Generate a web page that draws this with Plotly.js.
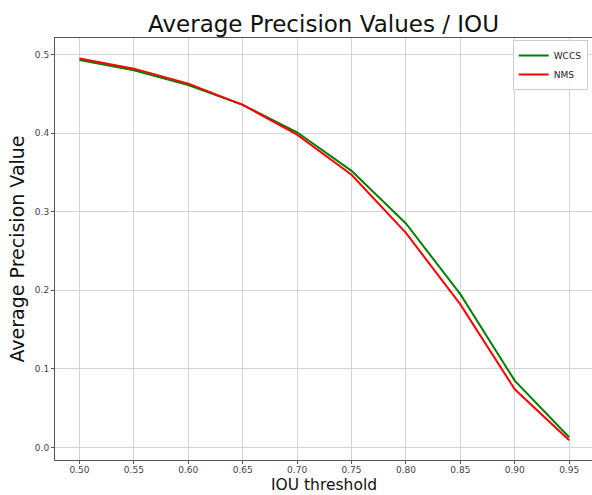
<!DOCTYPE html>
<html>
<head>
<meta charset="utf-8">
<script src="https://cdn.plot.ly/plotly-3.0.1.min.js"></script>
<style>html,body{margin:0;padding:0;background:#fff;}#chart{width:592px;height:495px;}</style>
</head>
<body>
<div id="chart"></div>
<script>
const iouThresholds = [0.50, 0.55, 0.60, 0.65, 0.70, 0.75, 0.80, 0.85, 0.90, 0.95];
const wccsValues = [0.493, 0.480, 0.461, 0.436, 0.401, 0.352, 0.285, 0.195, 0.085, 0.013];
const nmsValues  = [0.495, 0.482, 0.463, 0.436, 0.398, 0.347, 0.273, 0.182, 0.074, 0.009];
const xTickVals = [0.50, 0.55, 0.60, 0.65, 0.70, 0.75, 0.80, 0.85, 0.90, 0.95];
const yTickVals = [0.0, 0.1, 0.2, 0.3, 0.4, 0.5];
const xTitle = "IOU threshold";

const font = "DejaVu Sans, sans-serif";
const traces = [
  {x: iouThresholds, y: wccsValues, name: "WCCS", mode: "lines", line: {color: "#008000", width: 2}},
  {x: iouThresholds, y: nmsValues, name: "NMS", mode: "lines", line: {color: "#ff0000", width: 2}}
];
const axisCommon = {
  showline: true, mirror: true, linecolor: "#555", linewidth: 1,
  ticks: "outside", ticklen: 3, tickcolor: "#555",
  showgrid: true, gridcolor: "#d3d3d3", gridwidth: 1,
  zeroline: false, tickfont: {family: font, size: 9, color: "#444"}
};
const layout = {
  width: 592, height: 495,
  margin: {l: 55, r: 0, t: 38, b: 35},
  paper_bgcolor: "#fff", plot_bgcolor: "#fff",
  title: {text: "Average Precision Values / IOU", font: {family: font, size: 23, color: "#111"}, x: 0.5, xref: "paper", xanchor: "center", y: 0.951, yref: "container", yanchor: "middle"},
  xaxis: Object.assign({}, axisCommon, {
    range: [0.4775, 0.971], tickvals: xTickVals, tickformat: ".2f", ticklabelstandoff: -2
  }),
  yaxis: Object.assign({}, axisCommon, {
    range: [-0.016, 0.521], tickvals: yTickVals, tickformat: ".1f",
    title: {text: "Average Precision Value", font: {family: font, size: 19, color: "#111"}, standoff: 5}
  }),
  annotations: [{
    text: xTitle, xref: "paper", yref: "paper", x: 0.5, y: -0.06,
    xanchor: "center", yanchor: "middle", showarrow: false, borderpad: 0,
    font: {family: font, size: 15.5, color: "#111"}
  }],
  legend: {x: 0.992, xanchor: "right", y: 0.995, yanchor: "top", bgcolor: "rgba(255,255,255,0.9)", bordercolor: "#ccc", borderwidth: 1, font: {family: font, size: 9, color: "#222"}, tracegroupgap: 0, itemwidth: 30},
  showlegend: true
};
Plotly.newPlot("chart", traces, layout, {displayModeBar: false, staticPlot: true});
</script>
</body>
</html>
